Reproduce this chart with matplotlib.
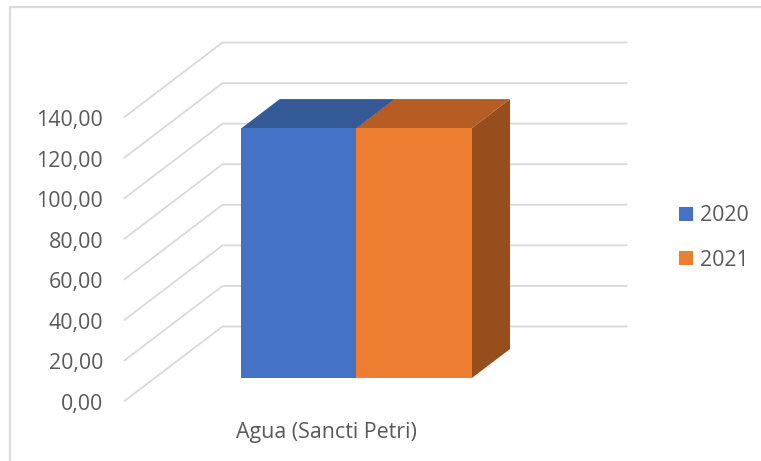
import matplotlib
matplotlib.use("Agg")
import matplotlib.pyplot as plt
from matplotlib.patches import Polygon, Rectangle

categories = ["Agua (Sancti Petri)"]
series_names = ["2020", "2021"]
values_2020 = [123.2]
values_2021 = [123.2]
yticks = [0, 20, 40, 60, 80, 100, 120, 140]

colors_front = ["#4472C4", "#ED7D31"]
colors_top = ["#335A96", "#B55D22"]
colors_side = ["#2F5597", "#964F1C"]
grid_color = "#D9D9D9"
text_color = "#595959"

# 3d box of the chart, in pixels
X0, X1 = 124.5, 528.5
Y0, PX_PER_UNIT = 401, 284 / 140
DX, DY = 98, -74.5
BAR_W = 0.285
D0, D1 = 0.305, 0.698

plt.rcParams["font.family"] = ["Open Sans", "DejaVu Sans"]
plt.rcParams["font.size"] = 15.4


def proj(cat, val, depth=0.0):
	# category position, value, depth -> pixel position
	return (X0 + (X1 - X0) * cat + DX * depth, Y0 - val * PX_PER_UNIT + DY * depth)


fig = plt.figure(figsize=(7.61, 4.61), dpi=100)
ax = fig.add_axes([0, 0, 1, 1])
ax.set_xlim(0, 761)
ax.set_ylim(461, 0)
ax.axis("off")

# chart frame
ax.plot([9.5, 9.5, 761], [461, 7, 7], color="#DCDCDC", lw=1.6, zorder=1)

# gridlines on side and back wall
for t in yticks:
	xs, ys = zip(proj(0, t), proj(0, t, 1), proj(1, t, 1))
	ax.plot(xs, ys, color=grid_color, lw=1.3, zorder=1)
	ax.text(103, proj(0, t)[1] + 1, f"{t},00", ha="right", va="center_baseline", color=text_color)

# bars
for i, vals in enumerate([values_2020, values_2021]):
	for j, v in enumerate(vals):
		left = j + 0.5 - BAR_W + i * BAR_W
		right = left + BAR_W
		front = [proj(left, 0, D0), proj(right, 0, D0), proj(right, v, D0), proj(left, v, D0)]
		top = [proj(left, v, D0), proj(right, v, D0), proj(right, v, D1), proj(left, v, D1)]
		side = [proj(right, 0, D0), proj(right, 0, D1), proj(right, v, D1), proj(right, v, D0)]
		ax.add_patch(Polygon(side, color=colors_side[i], lw=0, zorder=3))
		ax.add_patch(Polygon(top, color=colors_top[i], lw=0, zorder=3 + i))
		ax.add_patch(Polygon(front, color=colors_front[i], lw=0, zorder=4 + i))

for j, name in enumerate(categories):
	ax.text(proj(j + 0.5, 0)[0], 432, name, ha="center", va="center", color=text_color)

handles = [Rectangle((0, 0), 1, 1, color=c, lw=0) for c in colors_front]
ax.legend(handles, series_names, loc="center left", bbox_to_anchor=(660 / 761, 1 - 238 / 461),
	frameon=False, handlelength=0.65, handleheight=0.65, handletextpad=0.3, labelspacing=1.1,
	labelcolor=text_color)

fig.savefig("out.png", dpi=100)
